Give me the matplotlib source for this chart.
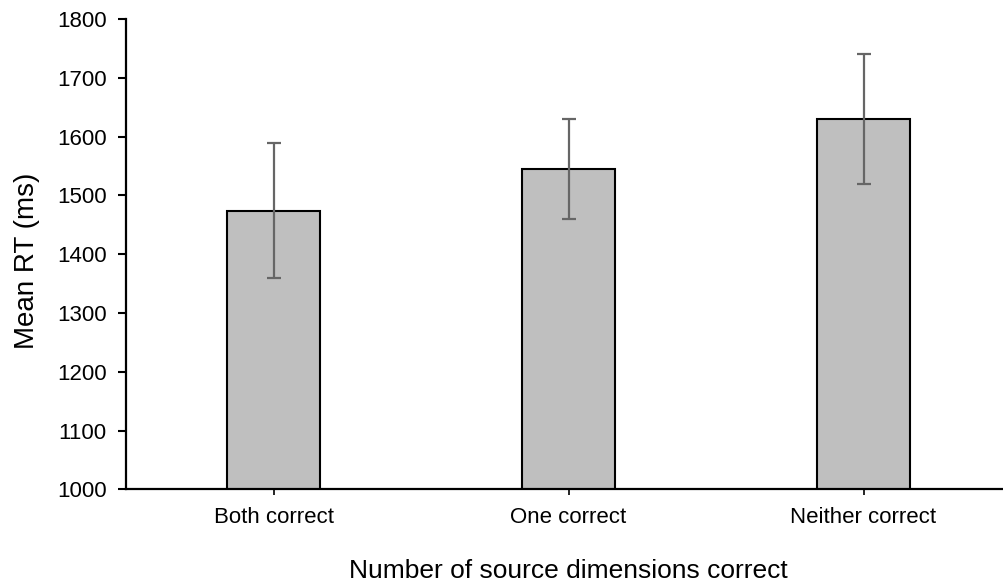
import matplotlib
matplotlib.use("Agg")
import matplotlib.pyplot as plt
import numpy as np

categories = ["Both correct", "One correct", "Neither correct"]
mean_rt = [1474, 1545, 1630]
err_rt = [115, 85, 111]
y_ticks = [1000, 1100, 1200, 1300, 1400, 1500, 1600, 1700, 1800]

plt.rcParams['font.family'] = ['Liberation Sans', 'DejaVu Sans']

fig = plt.figure(figsize=(10.04, 5.87), dpi=100)
ax = fig.add_axes([0.1255, 0.1664, 0.8815, 0.8012])

x = np.arange(len(categories))
ax.bar(x, mean_rt, width=0.315, bottom=0, color='#bfbfbf', edgecolor='black',
       linewidth=1.5, zorder=2)
ax.errorbar(x, mean_rt, yerr=err_rt, fmt='none', ecolor='#666666',
            elinewidth=1.6, capsize=5, capthick=1.6, zorder=3)

ax.set_xlim(-0.5, 2.5)
ax.set_ylim(1000, 1800)
ax.set_yticks(y_ticks)
ax.set_xticks(x)
ax.set_xticklabels(categories, fontsize=16)
ax.tick_params(axis='y', labelsize=16, length=6, width=1.5, direction='out', pad=8)
ax.tick_params(axis='x', length=4, width=1.2, direction='out', pad=9)

for side in ['top', 'right']:
    ax.spines[side].set_visible(False)
for side in ['left', 'bottom']:
    ax.spines[side].set_linewidth(1.6)
    ax.spines[side].set_color('black')

# axis titles placed where the reference has them
fig.text(27 / 1004, 1 - 261 / 587, "Mean RT (ms)", fontsize=20, rotation=90,
         ha='center', va='center')
fig.text(568 / 1004, 1 - 571 / 587, "Number of source dimensions correct",
         fontsize=19, ha='center', va='center')

fig.savefig("out.png", dpi=100)
